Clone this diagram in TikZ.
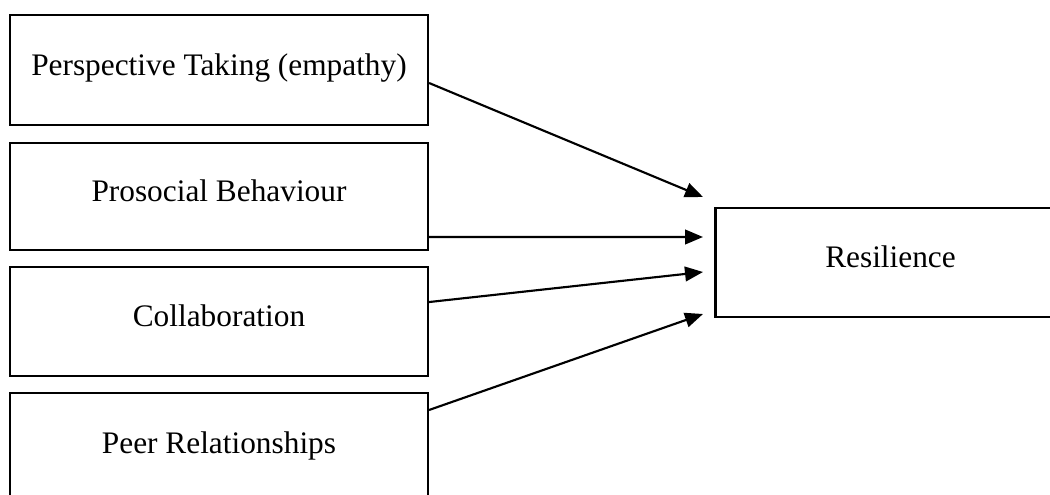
\documentclass[tikz,border=0pt]{standalone}
\usepackage{fontspec}
\setmainfont{Liberation Serif}
\usetikzlibrary{arrows.meta}
\begin{document}
\begin{tikzpicture}[x=0.75pt,y=-0.75pt,
  factor/.style={draw,line width=1.6pt,inner sep=0pt,minimum width=313.5pt,
    text height=14pt,text depth=6pt,font=\fontsize{23.5}{28}\selectfont},
  link/.style={line width=1.6pt,-{Triangle[length=13.5pt,width=11pt]}}]
\useasboundingbox (0,0) rectangle (1050,495);
%
\node[factor,minimum height=82.5pt] (persp) at (219,70) {Perspective Taking (empathy)};
\node[factor,minimum height=80.25pt] (prosoc) at (219,196.5) {Prosocial Behaviour};
\node[factor,minimum height=81.75pt] (collab) at (219,321.5) {Collaboration};
\node[factor,minimum height=82.5pt] (peer) at (219,448) {Peer Relationships};
%
\node[factor,minimum width=262.5pt,minimum height=81.75pt] (resil) at (890.5,262.5) {Resilience};
%
\coordinate (t1) at (703,197);
\coordinate (t2) at (703,237);
\coordinate (t3) at (703,272);
\coordinate (t4) at (703,314);
%
\draw[link] ([yshift=-9.75pt]persp.east) -- (t1);
\draw[link] ([yshift=-30.4pt]prosoc.east) -- (t2);
\draw[link] ([yshift=14.6pt]collab.east) -- (t3);
\draw[link] ([yshift=28.5pt]peer.east) -- (t4);
%
\end{tikzpicture}
\end{document}
